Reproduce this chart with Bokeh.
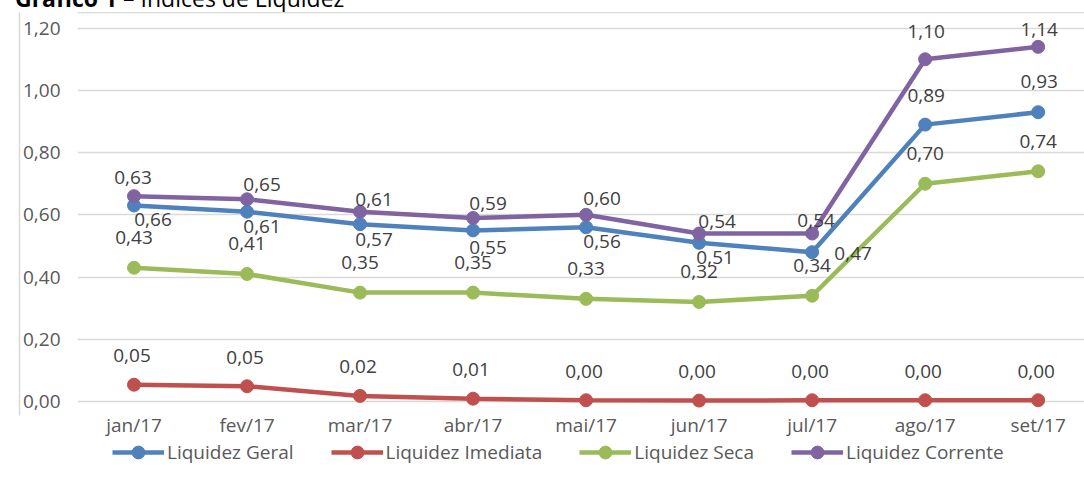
from bokeh.plotting import figure
from bokeh.layouts import column
from bokeh.models import (ColumnDataSource, Range1d, FixedTicker, LinearAxis, Legend,
                          LegendItem, Div, CustomJSTickFormatter)
from bokeh.core.properties import value
from bokeh.embed import file_html
from bokeh.resources import INLINE

# ---------------- data ----------------
meses = ["jan/17", "fev/17", "mar/17", "abr/17", "mai/17", "jun/17", "jul/17", "ago/17", "set/17"]
liq_geral = [0.63, 0.61, 0.57, 0.55, 0.56, 0.51, 0.48, 0.89, 0.93]
liq_imediata = [0.054, 0.049, 0.018, 0.009, 0.004, 0.003, 0.004, 0.004, 0.004]
liq_seca = [0.43, 0.41, 0.35, 0.35, 0.33, 0.32, 0.34, 0.70, 0.74]
liq_corrente = [0.66, 0.65, 0.61, 0.59, 0.60, 0.54, 0.54, 1.10, 1.14]
# data-label texts as printed in the original chart
rot_geral = ["0,66", "0,61", "0,57", "0,55", "0,56", "0,51", "0,47", "0,89", "0,93"]
rot_corrente = ["0,63", "0,65", "0,61", "0,59", "0,60", "0,54", "0,54", "1,10", "1,14"]
y_ticks = [0.0, 0.2, 0.4, 0.6, 0.8, 1.0, 1.2]
titulo_a = "Gráfico 1"
titulo_b = "– Índices de Liquidez"

def fmt(v):
    return f"{v:.2f}".replace(".", ",")

rot_seca = [fmt(v) for v in liq_seca]
rot_imediata = [fmt(v) for v in liq_imediata]

xs = list(range(len(meses)))

FONT = "Open Sans"
C_GERAL = "#4F81BD"
C_IMED = "#C0504D"
C_SECA = "#9BBB59"
C_CORR = "#8064A2"
TXT = "#404040"
AX = "#595959"
GRID = "#D9D9D9"

series = [
    ("Liquidez Geral", liq_geral, C_GERAL),
    ("Liquidez Imediata", liq_imediata, C_IMED),
    ("Liquidez Seca", liq_seca, C_SECA),
    ("Liquidez Corrente", liq_corrente, C_CORR),
]

# ---------------- main chart ----------------
p = figure(width=1084, height=428,
           x_range=Range1d(-0.5, 8.41), y_range=Range1d(-0.045, 1.2504),
           output_backend="svg", toolbar_location=None, margin=0,
           min_border_left=77, min_border_right=0, min_border_top=0, min_border_bottom=24)
p.outline_line_color = None
p.background_fill_color = "white"
p.border_fill_color = "white"

p.xaxis.ticker = FixedTicker(ticks=xs)
p.xaxis.major_label_overrides = {i: m for i, m in enumerate(meses)}
p.xaxis.axis_line_color = None
p.xaxis.major_tick_line_color = None
p.xaxis.minor_tick_line_color = None
p.xaxis.major_tick_out = 0
p.xaxis.major_tick_in = 0
p.xaxis.major_label_standoff = -4
p.xaxis.major_label_text_font = FONT
p.xaxis.major_label_text_font_size = "19px"
p.xaxis.major_label_text_color = AX

p.yaxis.ticker = FixedTicker(ticks=y_ticks)
p.yaxis.formatter = CustomJSTickFormatter(code="return tick.toFixed(2).replace('.', ',');")
p.yaxis.axis_line_color = None
p.yaxis.major_tick_line_color = None
p.yaxis.minor_tick_line_color = None
p.yaxis.major_tick_out = 0
p.yaxis.major_tick_in = 0
p.yaxis.major_label_standoff = 17
p.yaxis.major_label_text_font = FONT
p.yaxis.major_label_text_font_size = "19px"
p.yaxis.major_label_text_color = AX

p.xgrid.visible = False
p.ygrid.ticker = FixedTicker(ticks=y_ticks)
p.ygrid.grid_line_color = GRID
p.ygrid.grid_line_width = 1.5

# chart-area border (left and top)
border_left = LinearAxis(ticker=FixedTicker(ticks=[]), axis_line_color=GRID, axis_line_width=1.5,
                         major_tick_line_color=None, minor_tick_line_color=None,
                         major_tick_out=0, major_tick_in=0, major_label_standoff=0)
p.add_layout(border_left, "left")
border_top = LinearAxis(ticker=FixedTicker(ticks=[]), axis_line_color=GRID, axis_line_width=1.5,
                        major_tick_line_color=None, minor_tick_line_color=None,
                        major_tick_out=0, major_tick_in=0, major_label_standoff=0)
p.add_layout(border_top, "above")

for name, vals, col in series:
    src = ColumnDataSource(dict(x=xs, y=vals))
    p.line("x", "y", source=src, line_width=4.5, line_color=col)
    p.scatter("x", "y", source=src, size=13, fill_color=col, line_color=col)

# data labels (pixel offsets of each label relative to its point)
lab_sets = [
    (liq_geral, rot_geral, [19, 15, 14, 15, 16, 16, 41, 1, 1], [14, 15, 15, 17, 14, 15, 1, -29, -31]),
    (liq_imediata, rot_imediata, [-2] * 9, [-29] * 9),
    (liq_seca, rot_seca, [0] * 9, [-30] * 9),
    (liq_corrente, rot_corrente, [-1, 15, 14, 15, 16, 18, 4, 1, 1], [-19, -15, -12, -14, -16, -12, -13, -28, -17]),
]
for vals, texts, dxs, dys in lab_sets:
    src = ColumnDataSource(dict(x=xs, y=vals, t=texts, dx=dxs, dy=dys))
    p.text("x", "y", text="t", x_offset="dx", y_offset="dy", source=src,
           text_font=value(FONT), text_font_size="19px", text_color=TXT,
           text_align="center", text_baseline="middle")

# ---------------- legend strip ----------------
lg = figure(width=1084, height=41, x_range=Range1d(0, 1), y_range=Range1d(0, 1),
            output_backend="svg", toolbar_location=None, margin=0,
            x_axis_type=None, y_axis_type=None,
            min_border_left=0, min_border_right=0, min_border_top=0, min_border_bottom=0)
lg.outline_line_color = None
lg.xgrid.visible = False
lg.ygrid.visible = False
items = []
for name, vals, col in series:
    # legend-sample renderers, kept outside the strip's visible range
    src = ColumnDataSource(dict(x=[-10, -9], y=[-10, -10]))
    rl = lg.line("x", "y", source=src, line_width=4.5, line_color=col)
    rs = lg.scatter("x", "y", source=src, size=13, fill_color=col, line_color=col)
    items.append(LegendItem(label=name, renderers=[rl, rs]))
legend = Legend(items=items, orientation="horizontal", location=(35, 13),
                label_text_font=FONT, label_text_font_size="19px", label_text_color=AX,
                glyph_width=52, glyph_height=32, label_height=18, label_standoff=3, spacing=37,
                padding=0, margin=0, border_line_color=None, background_fill_alpha=0)
lg.add_layout(legend)

# ---------------- title strip (cut at the top in the original) ----------------
title_html = (
    '<div style="position:absolute; left:15px; top:-17px; line-height:30px; white-space:nowrap; '
    'font-family:\'Open Sans\'; font-size:23px; color:#000;">'
    f'<b>{titulo_a}</b> {titulo_b}</div>'
)
div = Div(text=title_html, width=1084, height=12, margin=0,
          styles={"overflow": "hidden", "position": "relative"})

layout = column(div, p, lg, spacing=0, margin=0)
open("out.html", "w").write(file_html(layout, INLINE))
